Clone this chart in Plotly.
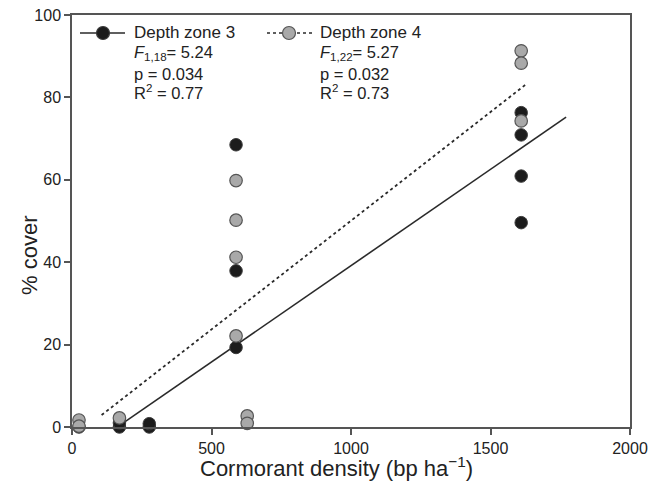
import plotly.graph_objects as go

# Depth zone 3 (black)
zone3_x = [25, 170, 170, 277, 277, 588, 588, 588, 1610, 1610, 1610, 1610]
zone3_y = [0, 0, 1.0, 0, 0.8, 68.5, 37.9, 19.3, 76.3, 70.9, 60.9, 49.6]
# Depth zone 4 (grey)
zone4_x = [25, 25, 170, 588, 588, 588, 588, 628, 628, 1610, 1610, 1610]
zone4_y = [1.7, 0.2, 2.2, 59.8, 50.2, 41.2, 22.1, 2.7, 0.9, 91.3, 88.3, 74.3]

# Regression fits: slope, intercept, x-start, x-end
fit3 = [0.04676, -7.6, 184, 1771]
fit4 = [0.05277, -2.7, 106, 1624]

x_ticks = [0, 500, 1000, 1500, 2000]
y_ticks = [0, 20, 40, 60, 80, 100]

legend_names = ["Depth zone 3", "Depth zone 4"]
stats3 = ["<i>F</i><sub>1,18</sub>= 5.24", "p = 0.034", "R<sup>2</sup> = 0.77"]
stats4 = ["<i>F</i><sub>1,22</sub>= 5.27", "p = 0.032", "R<sup>2</sup> = 0.73"]

FONT = "Liberation Sans, Arial, Helvetica, sans-serif"
AX = "#555555"
TXT = "#222222"
BLACK_FILL, BLACK_EDGE = "#1c1c1c", "#3a3a3a"
GREY_FILL, GREY_EDGE = "#a9a9a9", "#555555"

W, H = 652, 487
L, R, T, B = 72, 22, 15, 60
pw, ph = W - L - R, H - T - B

def px(x):
    return (x - L) / pw

def py(y):
    return 1 - (y - T) / ph

def fit_line(f):
    xs = [f[2], f[3]]
    return xs, [f[0] * v + f[1] for v in xs]

fig = go.Figure()
lx3, ly3 = fit_line(fit3)
lx4, ly4 = fit_line(fit4)
fig.add_trace(go.Scatter(x=lx3, y=ly3, mode="lines", showlegend=False,
                         line=dict(color="#2a2a2a", width=1.6)))
fig.add_trace(go.Scatter(x=lx4, y=ly4, mode="lines", showlegend=False,
                         line=dict(color="#2a2a2a", width=1.8, dash="dot")))
fig.add_trace(go.Scatter(x=zone3_x, y=zone3_y, mode="markers", showlegend=False,
                         cliponaxis=False, name=legend_names[0],
                         marker=dict(size=12.5, color=BLACK_FILL,
                                     line=dict(color=BLACK_EDGE, width=1))))
fig.add_trace(go.Scatter(x=zone4_x, y=zone4_y, mode="markers", showlegend=False,
                         cliponaxis=False, name=legend_names[1],
                         marker=dict(size=12.5, color=GREY_FILL,
                                     line=dict(color=GREY_EDGE, width=1.2))))

# manual legend (keys)
keys = [
    dict(x0=80, x1=125, xm=103, dash="solid", fill=BLACK_FILL, edge=BLACK_EDGE, tx=132),
    dict(x0=267, x1=314, xm=289, dash="dot", fill=GREY_FILL, edge=GREY_EDGE, tx=318),
]
ky = 33
for k, name, stats in zip(keys, legend_names, [stats3, stats4]):
    fig.add_shape(type="line", xref="paper", yref="paper",
                  x0=px(k["x0"]), x1=px(k["x1"]), y0=py(ky), y1=py(ky),
                  line=dict(color="#2a2a2a", width=1.6, dash=k["dash"]))
    fig.add_shape(type="circle", xref="paper", yref="paper",
                  xsizemode="pixel", ysizemode="pixel",
                  xanchor=px(k["xm"]), yanchor=py(ky),
                  x0=-6.5, x1=6.5, y0=-6.5, y1=6.5,
                  fillcolor=k["fill"], line=dict(color=k["edge"], width=1.2))
    fig.add_annotation(x=px(k["tx"]), y=py(ky), xref="paper", yref="paper",
                       text=name, showarrow=False, xanchor="left", yanchor="middle",
                       font=dict(size=17, color=TXT))
    for s, yy in zip(stats, [53, 74, 92]):
        fig.add_annotation(x=px(k["tx"]), y=py(yy), xref="paper", yref="paper",
                           text=s, showarrow=False, xanchor="left", yanchor="middle",
                           font=dict(size=16.5, color=TXT))

# axis titles
fig.add_annotation(x=px(336), y=py(467), xref="paper", yref="paper",
                   text="Cormorant density (bp ha<sup>\u22121</sup>)", showarrow=False,
                   xanchor="center", yanchor="middle", font=dict(size=22, color=TXT))
fig.add_annotation(x=px(30), y=py(256), xref="paper", yref="paper",
                   text="% cover", showarrow=False, textangle=-90,
                   xanchor="center", yanchor="middle", font=dict(size=22, color=TXT))

axis_common = dict(showgrid=False, zeroline=False, showline=True, linecolor=AX,
                   linewidth=1.5, mirror=True, ticks="outside", ticklen=6,
                   tickcolor=AX, tickwidth=1.5, automargin=False,
                   ticklabeloverflow="allow",
                   tickfont=dict(size=16, color=TXT))

fig.update_layout(
    width=W, height=H,
    margin=dict(l=L, r=R, t=T, b=B),
    plot_bgcolor="white", paper_bgcolor="white",
    font=dict(family=FONT, size=16, color=TXT),
    showlegend=False,
    xaxis=dict(range=[0, 2000], tickvals=x_ticks, **axis_common),
    yaxis=dict(range=[0, 100], tickvals=y_ticks, **axis_common),
)

fig.write_html(
    "out.html",
    config={"displayModeBar": False},
    post_script="document.body.style.margin='0';document.body.style.overflow='hidden';",
)
